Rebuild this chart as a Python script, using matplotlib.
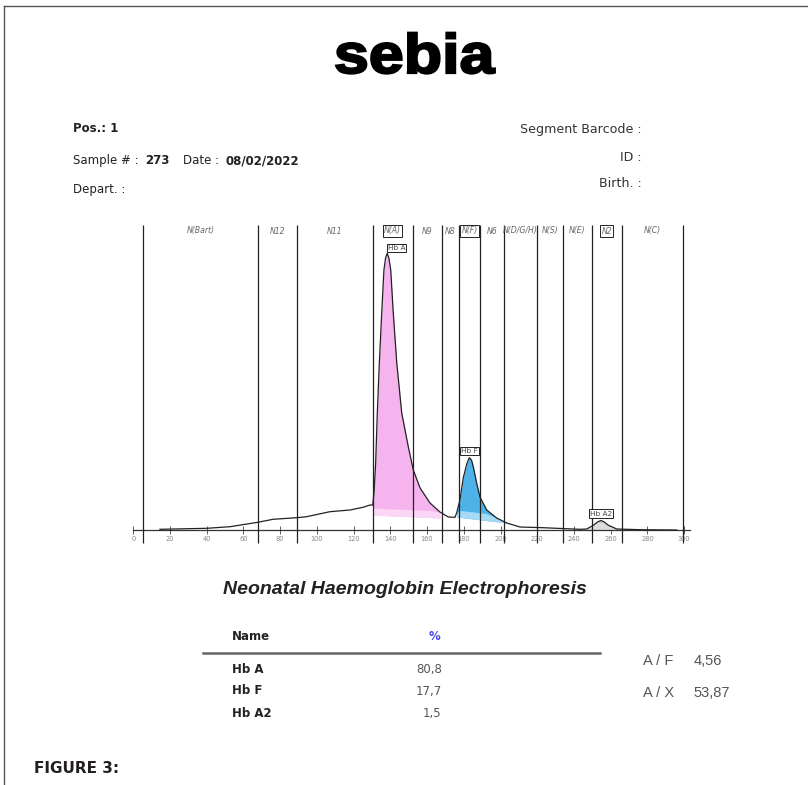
import matplotlib
matplotlib.use('Agg')
import matplotlib.pyplot as plt
import matplotlib.patheffects as pe
from matplotlib.lines import Line2D
from matplotlib.transforms import Affine2D
import numpy as np

# ---------------- data ----------------
migration = [14.5, 40.0, 52.7, 67.8, 76.1, 89.0, 94.4, 107.1, 118.0, 125.1,
             128.9, 130.4, 131.1, 132.0, 132.9, 134.0, 135.3, 136.5, 137.4, 138.3,
             139.2, 140.2, 141.6, 143.5, 146.2, 149.8, 152.5, 156.2, 161.6, 167.0,
             171.6, 175.2, 176.1, 177.9, 179.7, 181.6, 183.0, 184.2, 185.2, 187.0,
             188.8, 192.5, 197.9, 203.4, 210.6, 223.1, 243.3, 246.9, 250.4, 252.8,
             254.7, 256.5, 258.5, 263.3, 276.0, 296.0]
density = [0.7, 1.7, 3.3, 7.7, 10.7, 12.3, 13.3, 18.3, 20.0, 22.7,
           25.0, 25.0, 37.0, 67.0, 117.0, 167.0, 217.0, 260.0, 272.0, 276.7,
           272.0, 260.0, 217.0, 167.0, 117.0, 83.0, 60.0, 42.0, 27.0, 18.0,
           13.0, 12.7, 17.0, 30.0, 52.0, 66.0, 72.3, 70.0, 63.0, 47.0,
           33.0, 20.0, 12.0, 7.0, 3.0, 2.3, 0.7, 1.0, 4.5, 8.0,
           9.5, 8.0, 5.0, 1.0, 0.3, 0.0]

fraction_names = ['N(Bart)', 'N12', 'N11', 'N(A)', 'N9', 'N8', 'N(F)', 'N6',
                  'N(D/G/H)', 'N(S)', 'N(E)', 'N2', 'N(C)']
fraction_bounds = [5.3, 67.9, 89.2, 130.4, 152.2, 168.1, 177.4, 188.8, 201.9,
                   219.8, 234.0, 249.8, 266.1, 299.3]
boxed_fractions = ['N(A)', 'N(F)', 'N2']

peak_names = ['Hb A', 'Hb F', 'Hb A2']
peak_percent = ['80,8', '17,7', '1,5']
peak_start = [130.4, 176.1, 246.9]
peak_end = [167.0, 203.4, 263.3]
peak_floor_start = [15.0, 13.0, 0.5]
peak_floor_end = [12.0, 7.0, 0.5]
peak_colors = ['#f6b4ee', '#4cb2e8', '#c8c8c8']
peak_light = ['#fbd6f6', '#a6d9f3', '#dcdcdc']

ratio_names = ['A / F', 'A / X']
ratio_values = ['4,56', '53,87']

x_ticks = list(range(0, 301, 20))

W, H = 808, 785
fig = plt.figure(figsize=(W / 100, H / 100), dpi=100)
fig.patch.set_facecolor('white')


def fx(px):
    return px / W


def fy(py):
    return 1 - py / H


class StretchStroke(pe.AbstractPathEffect):
    """Draw text glyphs widened horizontally about cx, with a heavy outline."""

    def __init__(self, sx, cx, lw):
        super().__init__()
        self.sx, self.cx, self.lw = sx, cx, lw

    def draw_path(self, renderer, gc, tpath, affine, rgbFace):
        aff = affine + Affine2D().translate(-self.cx, 0).scale(self.sx, 1).translate(self.cx, 0)
        gc0 = renderer.new_gc()
        gc0.copy_properties(gc)
        gc0.set_linewidth(self.lw)
        gc0.set_foreground('black')
        gc0.set_joinstyle('miter')
        renderer.draw_path(gc0, tpath, aff, rgbFace)
        gc0.restore()


# frame lines
fig.add_artist(Line2D([fx(3.5), fx(3.5)], [fy(6), fy(785)], transform=fig.transFigure,
                      color='#555555', lw=1.0))
fig.add_artist(Line2D([fx(3.5), fx(808)], [fy(6), fy(6)], transform=fig.transFigure,
                      color='#555555', lw=1.0))

# logo
fig.text(fx(414), fy(73), 'sebia', ha='center', va='baseline', fontsize=40,
         fontweight='bold', family='Liberation Sans', color='black',
         path_effects=[StretchStroke(1.13, 414, 1.6)])

# header
hdr = dict(family='DejaVu Sans', fontsize=8.5, color='#222222', va='baseline')
fig.text(fx(73), fy(132), 'Pos.: 1', fontweight='bold', **hdr)
fig.text(fx(72.7), fy(164.3), 'Sample # :', **hdr)
fig.text(fx(145), fy(164.3), '273', fontweight='bold', **hdr)
fig.text(fx(183.3), fy(164.3), 'Date :', **hdr)
fig.text(fx(225.7), fy(164.3), '08/02/2022', fontweight='bold', **hdr)
fig.text(fx(72.7), fy(193.3), 'Depart. :', **hdr)

hdr_r = dict(family='DejaVu Sans', fontsize=9.1, color='#333333', va='baseline', ha='right')
fig.text(fx(642), fy(132.7), 'Segment Barcode :', **hdr_r)
fig.text(fx(642), fy(160.7), 'ID :', **hdr_r)
fig.text(fx(642), fy(187.3), 'Birth. :', **hdr_r)

# ---------------- electrophoregram ----------------
ax = fig.add_axes([fx(133), fy(545), fx(690) - fx(133), (545 - 222) / H])
ax.set_xlim(-0.16, 303.2)
ax.set_ylim(-15, 308)
ax.patch.set_alpha(0)
for s in ['left', 'right', 'top']:
    ax.spines[s].set_visible(False)
ax.spines['bottom'].set_position(('data', 0))
ax.spines['bottom'].set_color('#333333')
ax.spines['bottom'].set_linewidth(0.9)
ax.set_yticks([])
ax.set_xticks(x_ticks)
ax.set_xticklabels([str(t) for t in x_ticks])
ax.tick_params(axis='x', direction='inout', length=6, width=0.6, color='#444444',
               labelsize=4.8, labelcolor='#888888', pad=1)

ax.vlines(fraction_bounds, -13, 305, color='#222222', lw=0.9, zorder=4)

for i, name in enumerate(fraction_names):
    mid = (fraction_bounds[i] + fraction_bounds[i + 1]) / 2
    kw = {}
    if name in boxed_fractions:
        kw['bbox'] = dict(boxstyle='square,pad=0.15', fc='white', ec='#222222', lw=0.7)
    ax.text(mid, 299, name, ha='center', va='center', fontsize=5.6, style='italic',
            color='#666666', zorder=5, **kw)

mig = np.array(migration)
den = np.array(density)
for i, name in enumerate(peak_names):
    sel = (mig >= peak_start[i]) & (mig <= peak_end[i])
    xs, ys = mig[sel], den[sel]
    frac = (xs - peak_start[i]) / (peak_end[i] - peak_start[i])
    low = peak_floor_start[i] + (peak_floor_end[i] - peak_floor_start[i]) * frac
    ax.fill_between(xs, low, ys, color=peak_colors[i], lw=0, zorder=2)
    ax.fill_between(xs, low, np.minimum(ys, low + 7), color=peak_light[i], lw=0, zorder=2.1)
    k = np.argmax(ys)
    box = dict(boxstyle='square,pad=0.15', fc='white', ec='#222222', lw=0.7)
    if i == 0:
        ax.text(xs[k] + 0.3, ys[k] + 2, name, ha='left', va='bottom', fontsize=5.3,
                color='#444444', zorder=6, bbox=box)
    else:
        ax.text(xs[k], ys[k] + 4, name, ha='center', va='bottom', fontsize=5.3,
                color='#444444', zorder=6, bbox=box)

ax.plot(mig, den, color='#222222', lw=0.9, zorder=3)

# ---------------- title & table ----------------
fig.text(fx(404.5), fy(590), 'Neonatal Haemoglobin Electrophoresis', ha='center',
         va='center', fontsize=14, fontweight='bold', style='italic',
         family='Liberation Sans', color='#222222')

tb = dict(family='DejaVu Sans', fontsize=8.5, va='baseline')
fig.text(fx(231.7), fy(640), 'Name', fontweight='bold', color='#222222', **tb)
fig.text(fx(434.7), fy(640), '%', fontweight='bold', color='#4a4ae6', ha='center', **tb)
fig.add_artist(Line2D([fx(203), fx(600)], [fy(653.3), fy(653.3)], transform=fig.transFigure,
                      color='#666666', lw=1.8))
row_base = [673.3, 694.5, 716.7]
for name, val, yb in zip(peak_names, peak_percent, row_base):
    fig.text(fx(231.7), fy(yb), name, fontweight='bold', color='#222222', **tb)
    fig.text(fx(441.7), fy(yb), val, color='#555555', ha='right', **tb)

rt = dict(family='Liberation Sans', fontsize=10.5, va='baseline', color='#555555')
for name, val, yb in zip(ratio_names, ratio_values, [665, 697.3]):
    fig.text(fx(643.3), fy(yb), name, **rt)
    fig.text(fx(693.3), fy(yb), val, **rt)

fig.text(fx(34), fy(773.3), 'FIGURE 3:', fontsize=11, fontweight='bold',
         family='DejaVu Sans', color='#231f20', va='baseline')

fig.savefig('out.png', dpi=100, facecolor='white')
